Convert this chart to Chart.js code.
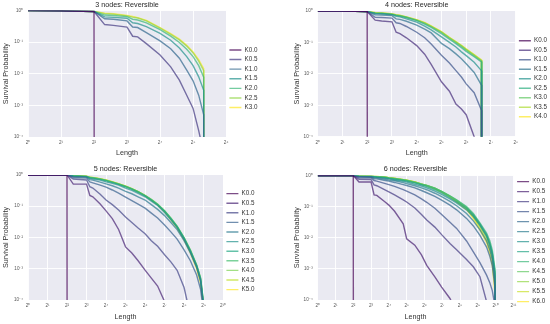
<!DOCTYPE html>
<html>
<head>
<meta charset="utf-8">
<style>
  html, body { margin: 0; padding: 0; background: #fff; }
  #fig { position: relative; width: 550px; height: 324px; }
  .panel { position: absolute; width: 275px; height: 162px; }
</style>
</head>
<body>
<div id="fig">
  <div class="panel" style="left:0;top:0"><canvas id="c3" width="275" height="162"></canvas></div>
  <div class="panel" style="left:275px;top:0"><canvas id="c4" width="275" height="162"></canvas></div>
  <div class="panel" style="left:0;top:162px"><canvas id="c5" width="275" height="162"></canvas></div>
  <div class="panel" style="left:275px;top:162px"><canvas id="c6" width="275" height="162"></canvas></div>
</div>

<script src="https://cdn.jsdelivr.net/npm/chart.js@4.4.1/dist/chart.umd.min.js"></script>
<script>
  // ---- 3 nodes ----
  const lengths3 = [1, 2, 4, 5, 6, 8, 9, 10, 12, 16, 20, 24, 28, 32, 36, 40, 41]
  const labels3 = ['K0.0', 'K0.5', 'K1.0', 'K1.5', 'K2.0', 'K2.5', 'K3.0']
  const n3_k00 = [1, 0.99, 0.93, 0, 0, 0, 0, 0, 0, 0, 0, 0, 0, 0, 0, 0, 0]
  const n3_k05 = [1, 0.98, 0.93, 0.36, 0.34, 0.30, 0.154, 0.147, 0.09, 0.039, 0.0165, 0.0063, 0.0021, 0.0008, 0.00016, 0.00003, 0]
  const n3_k10 = [1, 0.98, 0.93, 0.55, 0.53, 0.47, 0.30, 0.29, 0.20, 0.11, 0.062, 0.031, 0.013, 0.006, 0.0021, 0.0005, 0]
  const n3_k15 = [1, 0.98, 0.93, 0.63, 0.61, 0.57, 0.41, 0.39, 0.31, 0.19, 0.115, 0.065, 0.035, 0.018, 0.008, 0.003, 0]
  const n3_k20 = [1, 0.98, 0.93, 0.72, 0.70, 0.64, 0.53, 0.50, 0.41, 0.25, 0.155, 0.098, 0.06, 0.035, 0.018, 0.0078, 0]
  const n3_k25 = [1, 0.98, 0.93, 0.80, 0.77, 0.68, 0.62, 0.58, 0.47, 0.28, 0.175, 0.118, 0.075, 0.046, 0.025, 0.0125, 0]
  const n3_k30 = [1, 0.98, 0.93, 0.83, 0.79, 0.70, 0.65, 0.60, 0.49, 0.29, 0.185, 0.125, 0.08, 0.049, 0.028, 0.0145, 0]

  // ---- 4 nodes ----
  const lengths4 = [1, 2, 4, 5, 6, 8, 9, 10, 12, 16, 20, 24, 32, 40, 48, 56, 64, 80, 98, 99]
  const labels4 = ['K0.0', 'K0.5', 'K1.0', 'K1.5', 'K2.0', 'K2.5', 'K3.0', 'K3.5', 'K4.0']
  const n4_k00 = [1, 0.99, 0.95, 0, 0, 0, 0, 0, 0, 0, 0, 0, 0, 0, 0, 0, 0, 0, 0, 0]
  const n4_k05 = [1, 0.99, 0.95, 0.51, 0.48, 0.45, 0.21, 0.19, 0.14, 0.079, 0.042, 0.02, 0.0056, 0.0028, 0.0011, 0.00076, 0.0005, 0.0001, 0.00001, 0]
  const n4_k10 = [1, 0.99, 0.95, 0.63, 0.62, 0.59, 0.42, 0.40, 0.32, 0.21, 0.14, 0.089, 0.039, 0.022, 0.0126, 0.0079, 0.0048, 0.0025, 0.0007, 0]
  const n4_k15 = [1, 0.99, 0.95, 0.76, 0.74, 0.71, 0.56, 0.54, 0.47, 0.355, 0.263, 0.2, 0.093, 0.063, 0.043, 0.03, 0.021, 0.011, 0.0044, 0]
  const n4_k20 = [1, 0.99, 0.95, 0.83, 0.81, 0.76, 0.68, 0.65, 0.56, 0.44, 0.33, 0.25, 0.15, 0.1, 0.071, 0.05, 0.038, 0.0234, 0.0126, 0]
  const n4_k25 = [1, 0.99, 0.95, 0.85, 0.83, 0.78, 0.72, 0.69, 0.62, 0.49, 0.38, 0.30, 0.19, 0.126, 0.091, 0.068, 0.052, 0.035, 0.024, 0]
  const n4_k30 = [1, 0.99, 0.95, 0.87, 0.85, 0.79, 0.74, 0.71, 0.63, 0.51, 0.41, 0.32, 0.21, 0.138, 0.10, 0.076, 0.058, 0.038, 0.026, 0]
  const n4_k35 = [1, 0.99, 0.95, 0.88, 0.86, 0.80, 0.75, 0.72, 0.64, 0.52, 0.42, 0.33, 0.215, 0.142, 0.104, 0.079, 0.06, 0.04, 0.027, 0]
  const n4_k40 = [1, 0.99, 0.95, 0.89, 0.87, 0.81, 0.76, 0.73, 0.65, 0.53, 0.43, 0.335, 0.22, 0.145, 0.106, 0.081, 0.062, 0.041, 0.028, 0]

  // ---- 5 nodes ----
  const lengths5 = [1, 2, 4, 5, 8, 9, 10, 13, 16, 20, 25, 32, 40, 50, 64, 80, 100, 128, 160, 200, 256, 320, 400, 460, 512, 513]
  const labels5 = ['K0.0', 'K0.5', 'K1.0', 'K1.5', 'K2.0', 'K2.5', 'K3.0', 'K3.5', 'K4.0', 'K4.5', 'K5.0']
  const n5_k00 = [1, 1, 1, 0, 0, 0, 0, 0, 0, 0, 0, 0, 0, 0, 0, 0, 0, 0, 0, 0, 0, 0, 0, 0, 0, 0]
  const n5_k05 = [1, 1, 1, 0.51, 0.51, 0.22, 0.2, 0.117, 0.071, 0.04, 0.018, 0.005, 0.0032, 0.0018, 0.0009, 0.0005, 0.00028, 0.000089, 0.000025, 0.000008, 0.000002, 0.000001, 5e-7, 3e-7, 1e-7, 0]
  const n5_k10 = [1, 1, 1, 0.74, 0.69, 0.42, 0.38, 0.24, 0.158, 0.112, 0.076, 0.045, 0.03, 0.02, 0.0132, 0.0079, 0.0052, 0.0028, 0.00166, 0.00089, 0.00025, 0.000032, 0.000003, 0.000001, 5e-7, 0]
  const n5_k15 = [1, 1, 1, 0.83, 0.79, 0.6, 0.56, 0.47, 0.41, 0.33, 0.26, 0.195, 0.151, 0.117, 0.087, 0.06, 0.042, 0.025, 0.0151, 0.0089, 0.004, 0.0018, 0.00063, 0.00022, 0.00004, 0]
  const n5_k20 = [1, 1, 1, 0.89, 0.85, 0.71, 0.68, 0.59, 0.52, 0.45, 0.38, 0.3, 0.25, 0.2, 0.158, 0.112, 0.079, 0.05, 0.03, 0.0178, 0.0079, 0.0032, 0.0011, 0.0004, 0.000063, 0]
  const n5_k25 = [1, 1, 1, 0.91, 0.87, 0.78, 0.74, 0.68, 0.6, 0.54, 0.47, 0.38, 0.32, 0.257, 0.2, 0.145, 0.105, 0.063, 0.037, 0.021, 0.0089, 0.0035, 0.0012, 0.00045, 0.000063, 0]
  const n5_k30 = [1, 1, 1, 0.93, 0.89, 0.81, 0.79, 0.72, 0.65, 0.575, 0.5, 0.42, 0.35, 0.28, 0.214, 0.158, 0.112, 0.069, 0.04, 0.022, 0.0095, 0.0038, 0.00126, 0.00048, 0.00007, 0]
  const n5_k35 = [1, 1, 1, 0.94, 0.9, 0.83, 0.81, 0.74, 0.67, 0.59, 0.515, 0.43, 0.36, 0.29, 0.22, 0.163, 0.115, 0.071, 0.041, 0.0225, 0.0097, 0.0039, 0.0013, 0.0005, 0.00008, 0]
  const n5_k40 = [1, 1, 1, 0.95, 0.9, 0.84, 0.82, 0.75, 0.68, 0.6, 0.52, 0.435, 0.365, 0.295, 0.224, 0.165, 0.117, 0.072, 0.042, 0.023, 0.0099, 0.004, 0.00135, 0.00052, 0.00008, 0]
  const n5_k45 = [1, 1, 1, 0.95, 0.91, 0.84, 0.82, 0.75, 0.68, 0.6, 0.52, 0.435, 0.362, 0.29, 0.22, 0.16, 0.112, 0.068, 0.039, 0.021, 0.0088, 0.0035, 0.0011, 0.0004, 0.00006, 0]
  const n5_k50 = [1, 1, 1, 0.96, 0.91, 0.85, 0.83, 0.76, 0.69, 0.61, 0.53, 0.44, 0.36, 0.29, 0.218, 0.157, 0.11, 0.066, 0.037, 0.02, 0.0083, 0.0032, 0.001, 0.00035, 0.00005, 0]

  // ---- 6 nodes ----
  const lengths6 = [1, 2, 4, 5, 8, 9, 10, 14, 16, 20, 28, 32, 44, 57, 70, 96, 125, 173, 224, 330, 430, 556, 720, 820, 900, 1000, 1001]
  const labels6 = ['K0.0', 'K0.5', 'K1.0', 'K1.5', 'K2.0', 'K2.5', 'K3.0', 'K3.5', 'K4.0', 'K4.5', 'K5.0', 'K5.5', 'K6.0']
  const n6_k00 = [1, 1, 1, 0, 0, 0, 0, 0, 0, 0, 0, 0, 0, 0, 0, 0, 0, 0, 0, 0, 0, 0, 0, 0, 0, 0, 0]
  const n6_k05 = [1, 1, 1, 0.62, 0.62, 0.24, 0.23, 0.138, 0.112, 0.071, 0.028, 0.0093, 0.0058, 0.0028, 0.0013, 0.00055, 0.00026, 0.000112, 0.00004, 0.000005, 1e-6, 5e-7, 2e-7, 1e-7, 1e-7, 1e-7, 0]
  const n6_k10 = [1, 1, 1, 0.76, 0.74, 0.5, 0.47, 0.34, 0.3, 0.24, 0.166, 0.141, 0.091, 0.056, 0.037, 0.022, 0.0126, 0.0066, 0.0041, 0.002, 0.00117, 0.00056, 0.000089, 0.000016, 0.000003, 0.000001, 0]
  const n6_k15 = [1, 1, 1, 0.85, 0.83, 0.69, 0.66, 0.55, 0.51, 0.45, 0.355, 0.316, 0.24, 0.178, 0.138, 0.089, 0.056, 0.0316, 0.02, 0.0079, 0.0035, 0.00158, 0.00063, 0.00035, 0.0002, 0.000063, 0]
  const n6_k20 = [1, 1, 1, 0.91, 0.89, 0.79, 0.78, 0.69, 0.66, 0.6, 0.51, 0.48, 0.4, 0.33, 0.28, 0.214, 0.162, 0.112, 0.079, 0.042, 0.024, 0.012, 0.005, 0.0025, 0.00126, 0.00025, 0]
  const n6_k25 = [1, 1, 1, 0.93, 0.91, 0.85, 0.83, 0.76, 0.72, 0.68, 0.59, 0.55, 0.47, 0.4, 0.35, 0.27, 0.21, 0.148, 0.107, 0.06, 0.035, 0.018, 0.0079, 0.004, 0.002, 0.0004, 0]
  const n6_k30 = [1, 1, 1, 0.95, 0.93, 0.89, 0.87, 0.81, 0.78, 0.72, 0.65, 0.62, 0.52, 0.46, 0.4, 0.316, 0.25, 0.178, 0.132, 0.079, 0.048, 0.025, 0.0112, 0.0056, 0.0028, 0.00063, 0]
  const n6_k35 = [1, 1, 1, 0.95, 0.93, 0.91, 0.89, 0.85, 0.81, 0.76, 0.69, 0.66, 0.575, 0.5, 0.44, 0.35, 0.275, 0.195, 0.145, 0.089, 0.054, 0.028, 0.0126, 0.0063, 0.0032, 0.0008, 0]
  const n6_k40 = [1, 1, 1, 0.98, 0.95, 0.93, 0.91, 0.87, 0.83, 0.79, 0.72, 0.69, 0.6, 0.525, 0.48, 0.39, 0.31, 0.224, 0.166, 0.1, 0.06, 0.03, 0.0141, 0.0079, 0.004, 0.001, 0]
  const n6_k45 = [1, 1, 1, 0.98, 0.96, 0.93, 0.92, 0.88, 0.84, 0.8, 0.73, 0.7, 0.61, 0.53, 0.48, 0.39, 0.31, 0.22, 0.162, 0.095, 0.056, 0.027, 0.012, 0.0065, 0.0032, 0.0007, 0]
  const n6_k50 = [1, 1, 1, 0.98, 0.96, 0.94, 0.93, 0.88, 0.85, 0.81, 0.74, 0.71, 0.62, 0.535, 0.48, 0.39, 0.305, 0.215, 0.155, 0.09, 0.05, 0.024, 0.01, 0.005, 0.0025, 0.0005, 0]
  const n6_k55 = [1, 1, 1, 0.99, 0.97, 0.94, 0.93, 0.89, 0.85, 0.81, 0.74, 0.71, 0.62, 0.53, 0.475, 0.38, 0.3, 0.21, 0.148, 0.085, 0.046, 0.021, 0.0085, 0.004, 0.0018, 0.0003, 0]
  const n6_k60 = [1, 1, 1, 0.99, 0.97, 0.95, 0.94, 0.89, 0.86, 0.82, 0.74, 0.71, 0.62, 0.53, 0.47, 0.375, 0.295, 0.205, 0.142, 0.08, 0.042, 0.018, 0.007, 0.003, 0.0013, 0.00015, 0]

  const yTicks = [1, 0.1, 0.01, 0.001, 0.0001]

  Chart.defaults.font.family = "'Liberation Sans', Arial, sans-serif"
  Chart.defaults.color = '#262626'

  const viridisStops = ['#440154', '#482475', '#414487', '#355f8d', '#2a788e', '#21918c',
                        '#22a884', '#44bf70', '#7ad151', '#bddf26', '#fde725']

  function hexToRgb(h) {
    return [parseInt(h.slice(1, 3), 16), parseInt(h.slice(3, 5), 16), parseInt(h.slice(5, 7), 16)]
  }

  function viridis(t, alpha) {
    const pos = t * (viridisStops.length - 1)
    const i = Math.min(Math.floor(pos), viridisStops.length - 2)
    const f = pos - i
    const a = hexToRgb(viridisStops[i])
    const b = hexToRgb(viridisStops[i + 1])
    const c = a.map((v, k) => Math.round(v + (b[k] - v) * f))
    return `rgba(${c[0]}, ${c[1]}, ${c[2]}, ${alpha})`
  }

  function sup(n) {
    const map = { '0': '⁰', '1': '¹', '2': '²', '3': '³', '4': '⁴', '5': '⁵', '6': '⁶', '7': '⁷', '8': '⁸', '9': '⁹', '-': '⁻' }
    return String(n).split('').map(c => map[c]).join('')
  }

  // light lavender plot background (seaborn darkgrid look)
  const plotBg = {
    id: 'plotBg',
    beforeDraw(chart) {
      const { ctx, chartArea: a } = chart
      ctx.save()
      ctx.fillStyle = '#eaeaf2'
      ctx.fillRect(a.left, a.top, a.right - a.left, a.bottom - a.top)
      ctx.restore()
    }
  }

  function makePanel(id, title, lengths, labels, series, xMaxPow, box) {
    const n = series.length
    const datasets = series.map((vals, i) => ({
      label: labels[i],
      // zero survival is clipped to a tiny value, like matplotlib's log axis
      data: lengths.map((x, j) => ({ x: x, y: vals[j] > 0 ? vals[j] : 1e-300 })),
      borderColor: viridis(i / (n - 1), 0.7),
      backgroundColor: viridis(i / (n - 1), 0.7),
      borderWidth: 1.4,
      pointRadius: 0,
      pointStyle: 'line',
      tension: 0
    }))

    const xTicks = []
    for (let p = 0; p <= xMaxPow; p++) xTicks.push(2 ** p)

    const gridOpts = { color: '#ffffff', lineWidth: 0.9, drawTicks: false }
    const tickFont = { size: 4.6 }

    return new Chart(document.getElementById(id), {
      type: 'line',
      data: { datasets: datasets },
      options: {
        responsive: false,
        animation: false,
        layout: { padding: { left: box.padLeft, right: box.padRight, top: 0, bottom: box.padBottom } },
        plugins: {
          title: {
            display: true, text: title, fullSize: false,
            font: { size: 7.2, weight: 'normal' },
            padding: { top: box.titleTop, bottom: box.titleBottom }
          },
          legend: {
            position: 'right',
            labels: {
              usePointStyle: true, pointStyleWidth: 12, boxHeight: 6,
              font: { size: 6.3 }, padding: box.legendGap, color: '#333'
            }
          },
          tooltip: { enabled: false }
        },
        scales: {
          x: {
            type: 'logarithmic', min: 1, max: 2 ** xMaxPow,
            afterBuildTicks: s => { s.ticks = xTicks.map(v => ({ value: v })) },
            afterFit: s => { s.height = box.xAxisH },
            grid: gridOpts,
            border: { display: false },
            ticks: {
              font: tickFont, color: '#555', padding: 3, maxRotation: 0, autoSkip: false,
              callback: v => '2' + sup(Math.round(Math.log2(v)))
            },
            title: { display: true, text: 'Length', font: { size: 7.2 }, padding: 0, color: '#333' }
          },
          y: {
            type: 'logarithmic', min: 0.0001, max: 1,
            afterBuildTicks: s => { s.ticks = yTicks.map(v => ({ value: v })) },
            afterFit: s => { s.width = box.yAxisW },
            grid: gridOpts,
            border: { display: false },
            ticks: {
              font: tickFont, color: '#555', padding: 5, autoSkip: false,
              callback: v => '10' + sup(Math.round(Math.log10(v)))
            },
            title: { display: true, text: 'Survival Probability', font: { size: 7.2 }, padding: 0, color: '#333' }
          }
        }
      },
      plugins: [plotBg]
    })
  }

  makePanel('c3', '3 nodes: Reversible', lengths3, labels3,
    [n3_k00, n3_k05, n3_k10, n3_k15, n3_k20, n3_k25, n3_k30], 6,
    { padLeft: 1.8, yAxisW: 26.2, padRight: 7.5, titleTop: 0.8, titleBottom: 1.1, padBottom: 4.5, xAxisH: 20.5, legendGap: 3.3 })

  makePanel('c4', '4 nodes: Reversible', lengths4, labels4,
    [n4_k00, n4_k05, n4_k10, n4_k15, n4_k20, n4_k25, n4_k30, n4_k35, n4_k40], 8,
    { padLeft: 17.5, yAxisW: 25.2, padRight: -7, titleTop: 0.8, titleBottom: 1.5, padBottom: 4.5, xAxisH: 20.8, legendGap: 3.2 })

  makePanel('c5', '5 nodes: Reversible', lengths5, labels5,
    [n5_k00, n5_k05, n5_k10, n5_k15, n5_k20, n5_k25, n5_k30, n5_k35, n5_k40, n5_k45, n5_k50], 10,
    { padLeft: 1.8, yAxisW: 26.2, padRight: 10.5, titleTop: 2.5, titleBottom: 1.8, padBottom: 2.8, xAxisH: 21.2, legendGap: 3.3 })

  makePanel('c6', '6 nodes: Reversible', lengths6, labels6,
    [n6_k00, n6_k05, n6_k10, n6_k15, n6_k20, n6_k25, n6_k30, n6_k35, n6_k40, n6_k45, n6_k50, n6_k55, n6_k60], 11,
    { padLeft: 17.5, yAxisW: 25.2, padRight: -5.2, titleTop: 2.5, titleBottom: 2.4, padBottom: 2.8, xAxisH: 21.2, legendGap: 3.7 })
</script>
</body>
</html>
